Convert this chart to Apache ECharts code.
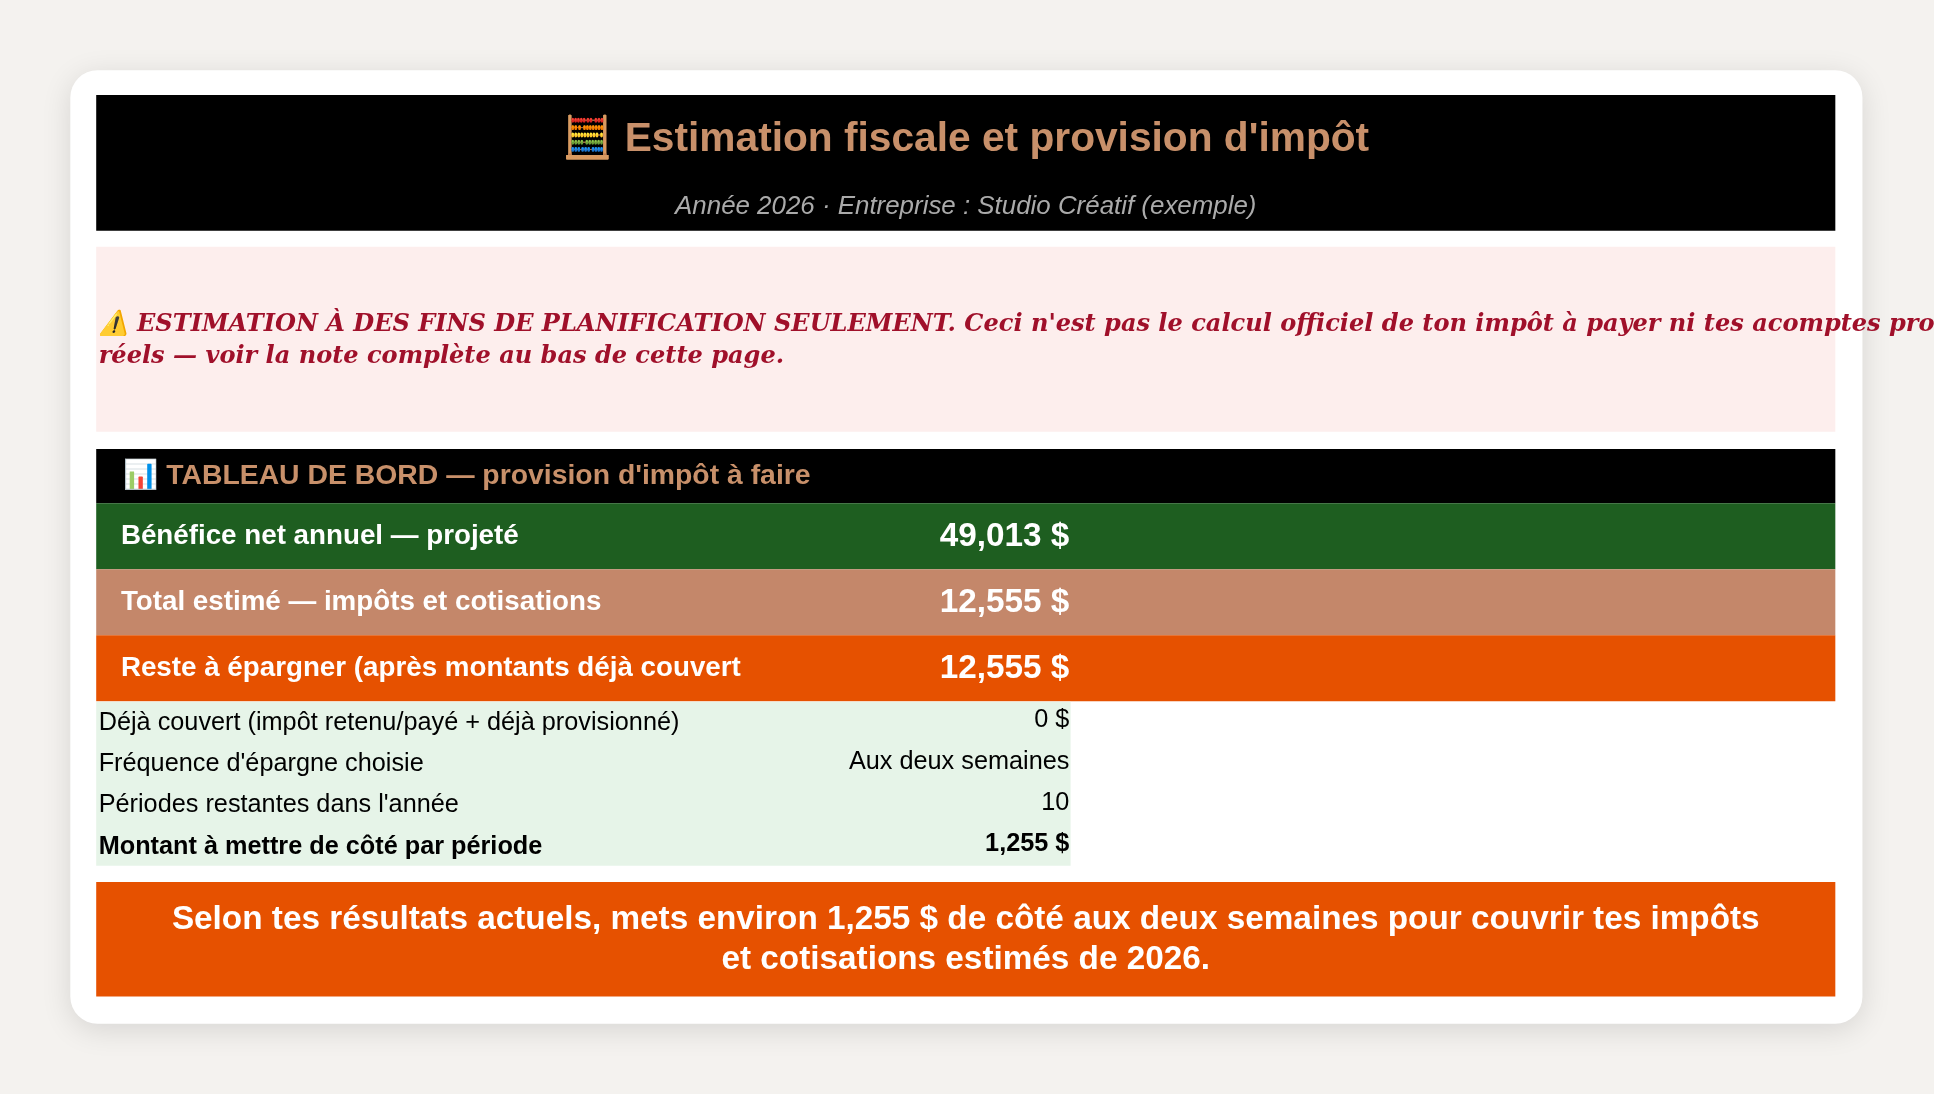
<!DOCTYPE html>
<html><head><meta charset="utf-8">
<script src="https://cdn.jsdelivr.net/npm/echarts@6/dist/echarts.min.js"></script>
<style>html,body{margin:0;padding:0;background:#f4f2ef;}#c{width:1934px;height:1094px;}</style>
</head><body><div id="c"></div>
<script>
const title = "🧮 Estimation fiscale et provision d'impôt";
const subtitle = "Année 2026 · Entreprise : Studio Créatif (exemple)";
const warningLines = ["⚠️ ESTIMATION À DES FINS DE PLANIFICATION SEULEMENT. Ceci n'est pas le calcul officiel de ton impôt à payer ni tes acomptes provisionnels", "réels — voir la note complète au bas de cette page."];
const dashTitle = "📊 TABLEAU DE BORD — provision d'impôt à faire";
const kpiLabels = ["Bénéfice net annuel — projeté", "Total estimé — impôts et cotisations", "Reste à épargner (après montants déjà couvert"];
const kpiValues = ["49,013 $", "12,555 $", "12,555 $"];
const kpiColors = ["#1e5e20", "#c4876a", "#e65100"];
const detailLabels = ["Déjà couvert (impôt retenu/payé + déjà provisionné)", "Fréquence d'épargne choisie", "Périodes restantes dans l'année", "Montant à mettre de côté par période"];
const detailValues = ["0 $", "Aux deux semaines", "10", "1,255 $"];
const summaryLines = ["Selon tes résultats actuels, mets environ 1,255 $ de côté aux deux semaines pour couvrir tes impôts", "et cotisations estimés de 2026."];

const s = 1934/1568;
const F = "Liberation Sans, Arial, sans-serif";
const els = [];
function rect(x,y,w,h,fill,extra){els.push(Object.assign({type:'rect',shape:{x:x*s,y:y*s,width:w*s,height:h*s},style:{fill}},extra||{}));}
function text(x,y,t,size,color,opt){opt=opt||{};els.push({type:'text',x:x*s,y:y*s,style:{text:t,fill:color,font:(opt.style||'normal')+' '+(opt.weight||'normal')+' '+(size*s)+'px '+(opt.family||F),textAlign:opt.align||'left',textVerticalAlign:'middle'}});}

rect(57,57,1453,773,'#ffffff',{shape:{x:57*s,y:57*s,width:1453*s,height:773*s,r:22*s},style:{fill:'#fff',shadowBlur:30,shadowColor:'rgba(0,0,0,0.12)',shadowOffsetY:6}});
rect(78,77,1410,110,'#000');
text(783,113,title,33,'#c8906a',{weight:'bold',align:'center'});
text(783,168,subtitle,21,'#aaaaaa',{style:'italic',align:'center'});
rect(78,200,1410,150,'#fdeeed');
warningLines.forEach((l,i)=>text(80,263+i*26,l,19.5,'#a0102a',{style:'italic',weight:'bold',family:'DejaVu Serif, serif'}));
rect(78,364,1410,44,'#000');
text(100,386,dashTitle,23,'#c8906a',{weight:'bold'});
kpiLabels.forEach((l,i)=>{const y=408+i*53.5;rect(78,y,1410,53.5,kpiColors[i]);text(98,y+27,l,22.5,'#fff',{weight:'bold'});text(867,y+27,kpiValues[i],27,'#fff',{weight:'bold',align:'right'});});
rect(78,569,790,133,'#e6f4e8');
detailLabels.forEach((l,i)=>{const y=586+i*33.5;const b=i===3?'bold':'normal';text(80,y,l,20.5,'#000',{weight:b});text(867,y-2,detailValues[i],20.5,'#000',{weight:b,align:'right'});});
rect(78,715,1410,93,'#e65100');
summaryLines.forEach((l,i)=>text(783,746+i*32,l,27,'#fff',{weight:'bold',align:'center'}));

const chart = echarts.init(document.getElementById('c'));
chart.setOption({backgroundColor:'#f4f2ef',graphic:{elements:els}});
</script></body></html>
